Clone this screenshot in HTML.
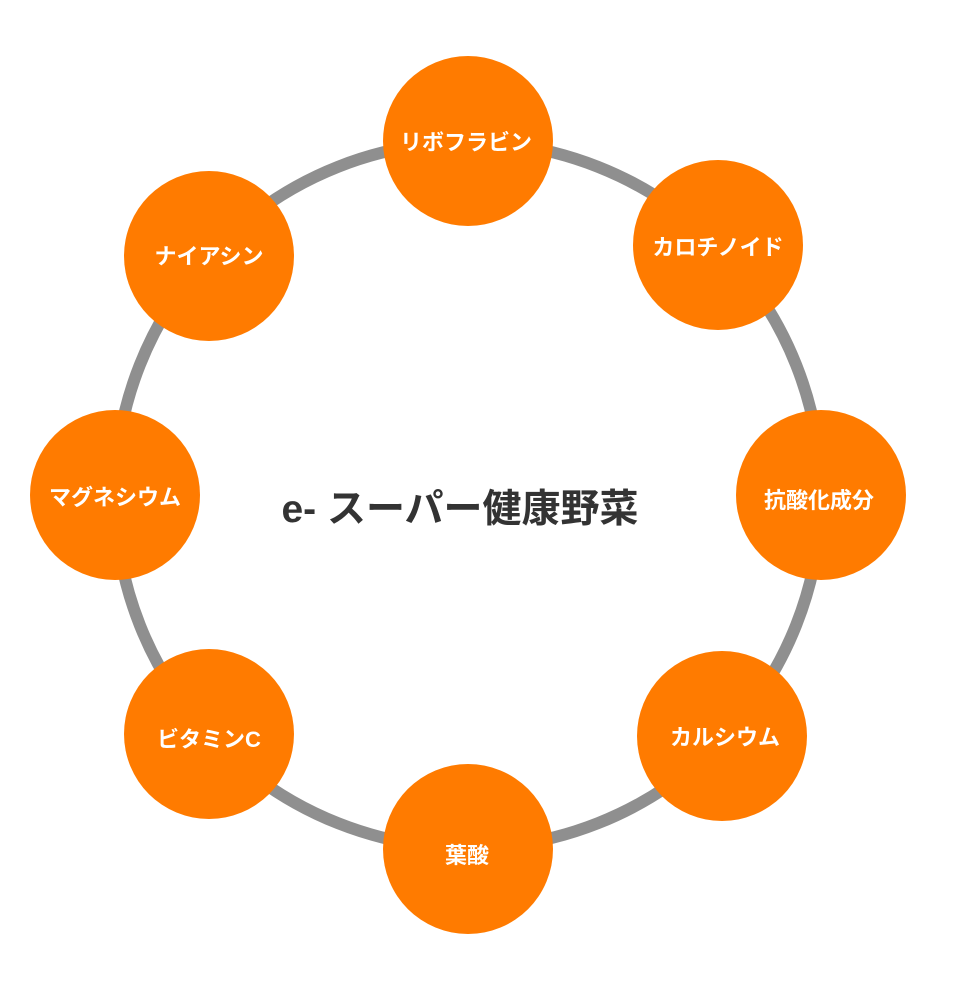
<!DOCTYPE html>
<html><head><meta charset="utf-8"><style>
html,body{margin:0;padding:0;background:#fff;}
svg{display:block;}
text{font-family:"Liberation Sans","Noto Sans CJK JP",sans-serif;font-weight:bold;}
</style></head><body>
<svg width="953" height="997" viewBox="0 0 953 997" xmlns="http://www.w3.org/2000/svg">
<circle cx="468" cy="495" r="353" fill="none" stroke="#8f8f8f" stroke-width="12"/>
<g fill="#ff7b00">
<circle cx="468" cy="141" r="85"/>
<circle cx="718" cy="245" r="85"/>
<circle cx="821" cy="495" r="85"/>
<circle cx="722" cy="736" r="85"/>
<circle cx="468" cy="849" r="85"/>
<circle cx="209" cy="734" r="85"/>
<circle cx="115" cy="495" r="85"/>
<circle cx="209" cy="256" r="85"/>
</g>
<g fill="#fff" font-size="22" text-anchor="middle">
<text x="466" y="150">リボフラビン</text>
<text x="718" y="255">カロチノイド</text>
<text x="819" y="508">抗酸化成分</text>
<text x="725" y="745">カルシウム</text>
<text x="467" y="863">葉酸</text>
<text x="209" y="747">ビタミンC</text>
<text x="115" y="505">マグネシウム</text>
<text x="209" y="264">ナイアシン</text>
</g>
<text x="460" y="522" font-size="39" fill="#333" text-anchor="middle">e- スーパー健康野菜</text>
</svg>
</body></html>
